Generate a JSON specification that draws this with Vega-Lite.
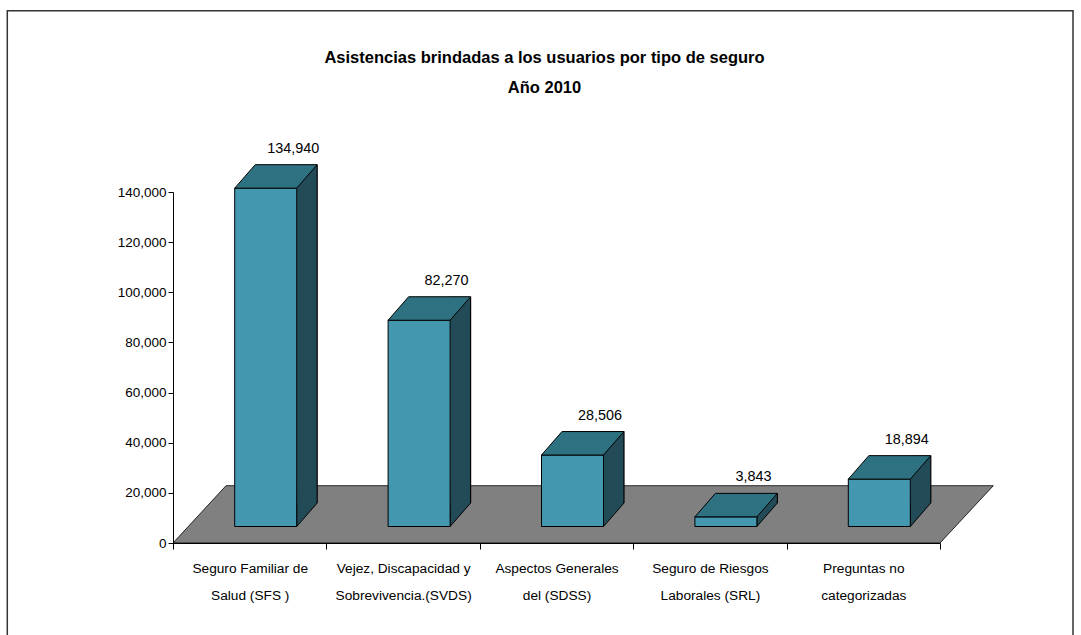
{
  "$schema": "https://vega.github.io/schema/vega-lite/v6.json",
  "width": 767,
  "height": 351,
  "autosize": {"type": "none"},
  "padding": {"left": 173, "top": 192, "right": 141, "bottom": 92},
  "background": "white",
  "config": {
    "view": {"stroke": null},
    "font": "Liberation Sans, Arial, sans-serif"
  },
  "title": {
    "text": ["Asistencias brindadas a los usuarios por tipo de seguro", "Año  2010"],
    "fontSize": 16.5,
    "fontWeight": "bold",
    "color": "#000",
    "anchor": "middle",
    "lineHeight": 30,
    "offset": -86.5,
    "dx": -12
  },
  "data": {
    "values": [
      {"tipo": "Seguro Familiar de\nSalud (SFS )", "asistencias": 134940},
      {"tipo": "Vejez, Discapacidad y\nSobrevivencia.(SVDS)", "asistencias": 82270},
      {"tipo": "Aspectos Generales\ndel (SDSS)", "asistencias": 28506},
      {"tipo": "Seguro de Riesgos\nLaborales (SRL)", "asistencias": 3843},
      {"tipo": "Preguntas no\ncategorizadas", "asistencias": 18894}
    ]
  },
  "layer": [
    {
      "mark": {"type": "bar", "width": 62, "xOffset": 16, "yOffset": -16.5, "y2Offset": -16.5, "fill": "#4398B0", "stroke": "#000000", "strokeWidth": 1, "opacity": 0},
      "encoding": {
        "x": {
          "field": "tipo", "type": "nominal", "sort": null, "title": null,
          "scale": {"paddingInner": 0, "paddingOuter": 0},
          "axis": {
            "title": null,
            "labelExpr": "split(datum.label, '\\n')",
            "labelAngle": 0,
            "labelFontSize": 13.7,
            "labelColor": "#000000",
            "labelLineHeight": 27,
            "labelPadding": 12,
            "labelBaseline": "top",
            "tickBand": "extent",
            "tickSize": 6,
            "tickColor": "#000000",
            "domainColor": "#000000",
            "labelLimit": 300,
            "grid": false,
            "zindex": 0
          }
        },
        "y": {
          "field": "asistencias", "type": "quantitative", "title": null,
          "scale": {"domain": [0, 140000], "nice": false},
          "axis": {
            "title": null,
            "values": [0, 20000, 40000, 60000, 80000, 100000, 120000, 140000],
            "labelExpr": "format(datum.value, ',')",
            "labelFontSize": 13.5,
            "labelColor": "#000000",
            "labelPadding": 2,
            "tickSize": 5,
            "tickColor": "#000000",
            "domainColor": "#000000",
            "grid": false,
            "zindex": 0
          }
        },
        "y2": {"datum": 0}
      }
    },
    {
      "data": {"values": [{}]},
      "mark": {"type": "rect", "fill": "transparent", "stroke": "#333333", "strokeWidth": 1.5, "xOffset": -165.7, "x2Offset": 133, "yOffset": -181.3, "y2Offset": 97},
      "encoding": {
        "x": {"value": 0},
        "x2": {"value": "width"},
        "y": {"value": 0},
        "y2": {"value": "height"}
      }
    },
    {
      "data": {"values": [{}]},
      "mark": {"type": "point", "shape": "M-76.7,0 L690.3,0 L743.6,-57.3 L-23.7,-57.3 Z", "size": 4, "filled": true, "fill": "#808080", "stroke": "#000000", "strokeWidth": 0.8, "opacity": 1},
      "encoding": {
        "x": {"datum": "Seguro Familiar de\nSalud (SFS )", "type": "nominal", "title": null},
        "y": {"datum": 0, "type": "quantitative", "title": null}
      }
    },
    {
      "mark": {"type": "bar", "width": 20.5, "xOffset": 57.25, "yOffset": -40, "y2Offset": -40, "fill": "#224B57", "strokeWidth": 0},
      "encoding": {
        "x": {"field": "tipo", "type": "nominal", "sort": null, "title": null},
        "y": {"field": "asistencias", "type": "quantitative", "title": null},
        "y2": {"datum": 0}
      }
    },
    {
      "mark": {"type": "point", "shape": "M47,-40 L47,-16.5 L67.5,-40", "size": 4, "filled": true, "fill": "#224B57", "stroke": "#000000", "strokeWidth": 1, "opacity": 1},
      "encoding": {
        "x": {"field": "tipo", "type": "nominal", "sort": null, "title": null},
        "y": {"datum": 0, "type": "quantitative", "title": null}
      }
    },
    {
      "mark": {"type": "bar", "width": 1.2, "xOffset": 67.5, "yOffset": -40, "y2Offset": -40, "fill": "#000000"},
      "encoding": {
        "x": {"field": "tipo", "type": "nominal", "sort": null, "title": null},
        "y": {"field": "asistencias", "type": "quantitative", "title": null},
        "y2": {"datum": 0}
      }
    },
    {
      "mark": {"type": "bar", "width": 62, "xOffset": 16, "yOffset": -16.5, "y2Offset": -16.5, "fill": "#4398B0", "stroke": "#000000", "strokeWidth": 1},
      "encoding": {
        "x": {"field": "tipo", "type": "nominal", "sort": null, "title": null},
        "y": {"field": "asistencias", "type": "quantitative", "title": null},
        "y2": {"datum": 0}
      }
    },
    {
      "mark": {"type": "point", "shape": "M-15,-16.5 L47,-16.5 L67.5,-40 L5.5,-40 Z", "size": 4, "filled": true, "fill": "#2E7180", "stroke": "#000000", "strokeWidth": 1, "opacity": 1},
      "encoding": {
        "x": {"field": "tipo", "type": "nominal", "sort": null, "title": null},
        "y": {"field": "asistencias", "type": "quantitative", "title": null}
      }
    },
    {
      "mark": {"type": "text", "dx": 43.5, "dy": -52, "baseline": "alphabetic", "align": "center", "fontSize": 14.4, "color": "#000000"},
      "encoding": {
        "x": {"field": "tipo", "type": "nominal", "sort": null, "title": null},
        "y": {"field": "asistencias", "type": "quantitative", "title": null},
        "text": {"field": "asistencias", "type": "quantitative", "format": ","}
      }
    }
  ]
}
